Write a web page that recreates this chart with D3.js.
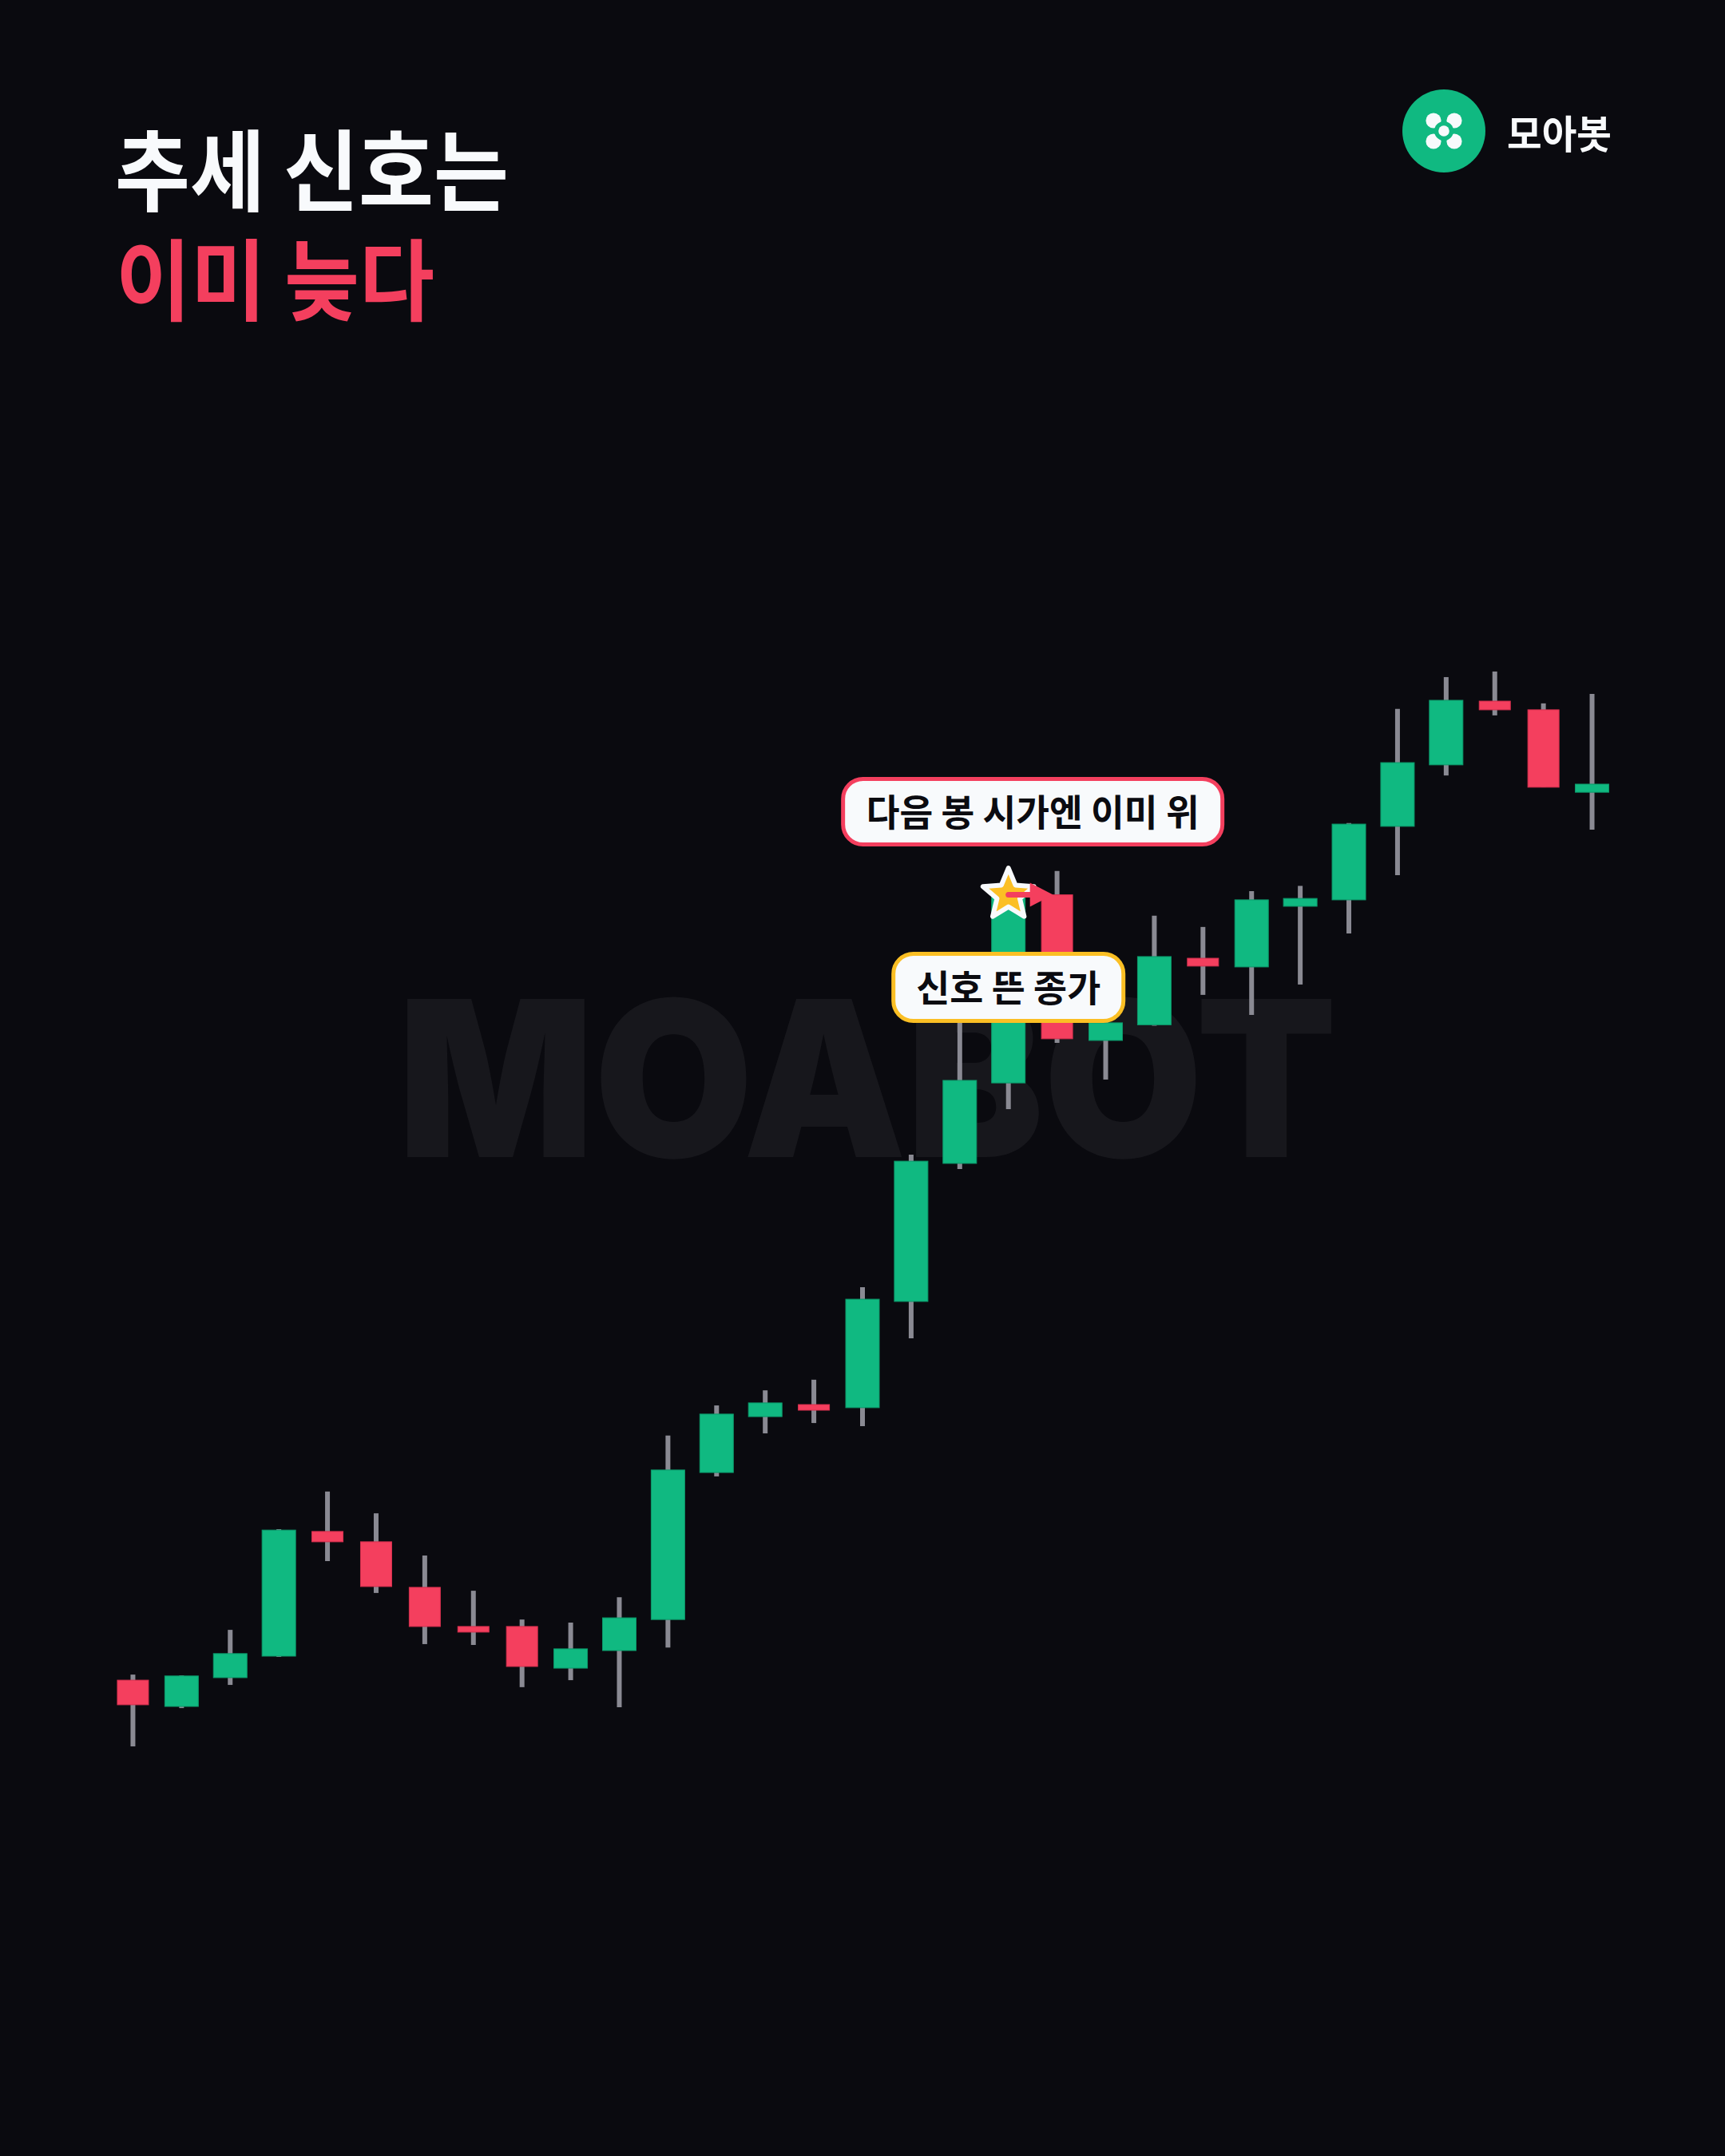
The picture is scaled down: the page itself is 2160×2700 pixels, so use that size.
<!DOCTYPE html>
<html>
<head>
<meta charset="utf-8">
<script src="https://cdn.jsdelivr.net/npm/d3@7"></script>
<style>
  html, body { margin: 0; padding: 0; background: #0a0a0f; }
  svg { display: block; }
</style>
</head>
<body>
<svg id="chart" width="2160" height="2700"></svg>
<script>
// ---------------- DATA ----------------
const titleLine1 = "추세 신호는";
const titleLine2 = "이미 늦다";
const brandName = "모아봇";
const watermarkText = "MOABOT";
const labelNextOpen = "다음 봉 시가엔 이미 위";
const labelSignalClose = "신호 뜬 종가";
const signalIndex = 18;

const opens  = [97.74, 96.80, 97.83, 98.60, 103.06, 102.69, 101.06, 99.66, 99.66, 98.17, 98.80, 99.91, 105.17, 107.17, 107.60, 107.49, 111.29, 116.23, 119.11, 125.84, 120.63, 121.19, 123.57, 123.26, 125.43, 125.66, 128.29, 130.49, 132.77, 132.46, 129.51];
const highs  = [97.94, 97.91, 99.54, 103.14, 104.49, 103.71, 102.20, 100.94, 99.91, 99.80, 100.71, 106.49, 107.57, 108.11, 108.49, 111.80, 116.54, 121.29, 126.09, 126.69, 121.43, 125.09, 124.69, 125.97, 126.16, 128.41, 132.49, 133.63, 133.83, 132.69, 133.03];
const lows   = [95.37, 96.74, 97.57, 98.57, 102.00, 100.86, 99.03, 99.00, 97.49, 97.74, 96.77, 98.91, 105.03, 106.57, 106.94, 106.83, 109.97, 116.03, 118.17, 120.54, 119.23, 121.16, 122.26, 121.54, 122.63, 124.46, 126.54, 130.11, 132.26, 129.69, 128.17];
const closes = [96.86, 97.89, 98.69, 103.11, 102.69, 101.09, 99.66, 99.46, 98.23, 98.86, 99.97, 105.26, 107.26, 107.66, 107.40, 111.37, 116.31, 119.20, 125.84, 120.69, 121.26, 123.63, 123.29, 125.66, 125.71, 128.37, 130.57, 132.80, 132.46, 129.69, 129.80];

// ---------------- STYLE ----------------
const C = {
  bg: "#0a0a0f",
  up: "#10b981", upStroke: "#0c9a6b",
  down: "#f43f5e", downStroke: "#d8304f",
  wick: "#8a8a93",
  white: "#f8fafc",
  red: "#f43f5e",
  amber: "#fbbf24",
  ink: "#0b0b10",
  watermark: "#17171c"
};
const KR = "'Noto Sans CJK KR', 'Noto Sans KR', sans-serif";

const svg = d3.select("#chart");
svg.append("rect").attr("width", 2160).attr("height", 2700).attr("fill", C.bg);

// watermark
svg.append("text")
  .attr("x", 1086).attr("y", 1449)
  .attr("text-anchor", "middle")
  .attr("font-family", "Inter, 'Liberation Sans', sans-serif")
  .attr("font-weight", 900)
  .attr("font-size", 272)
  .attr("textLength", 1176)
  .attr("lengthAdjust", "spacingAndGlyphs")
  .attr("fill", C.watermark)
  .text(watermarkText);

// title
svg.append("text")
  .attr("x", 144).attr("y", 256)
  .attr("font-family", KR).attr("font-weight", 700)
  .attr("font-size", 111)
  .attr("textLength", 493).attr("lengthAdjust", "spacingAndGlyphs")
  .attr("fill", C.white)
  .text(titleLine1);
svg.append("text")
  .attr("x", 145).attr("y", 393)
  .attr("font-family", KR).attr("font-weight", 700)
  .attr("font-size", 111)
  .attr("textLength", 399).attr("lengthAdjust", "spacingAndGlyphs")
  .attr("fill", C.red)
  .text(titleLine2);

// brand
const logo = svg.append("g").attr("transform", "translate(1808,164)");
logo.append("circle").attr("r", 52).attr("fill", C.up);
[[-1,-1],[1,-1],[-1,1],[1,1]].forEach(([sx, sy]) => {
  logo.append("circle").attr("cx", sx * 13).attr("cy", sy * 13).attr("r", 9.6).attr("fill", C.white);
});
logo.append("circle").attr("r", 12).attr("fill", C.up);
logo.append("circle").attr("r", 6.8).attr("fill", C.white);
svg.append("text")
  .attr("x", 1887).attr("y", 186)
  .attr("font-family", KR).attr("font-weight", 700)
  .attr("font-size", 49)
  .attr("textLength", 131).attr("lengthAdjust", "spacingAndGlyphs")
  .attr("fill", C.white)
  .text(brandName);

// ---------------- SCALES ----------------
const idx = d3.range(opens.length);
const x = d3.scaleBand().domain(idx).range([136, 2024]).padding(0);
const xc = i => x(i) + x.bandwidth() / 2;
const y = d3.scaleLinear().domain([95, 135]).range([2200, 800]);

const candles = idx.map(i => ({ i, o: opens[i], h: highs[i], l: lows[i], c: closes[i], up: closes[i] >= opens[i] }));

const g = svg.append("g");
g.selectAll("line.wick").data(candles).join("line")
  .attr("class", "wick")
  .attr("x1", d => xc(d.i)).attr("x2", d => xc(d.i))
  .attr("y1", d => y(d.h)).attr("y2", d => y(d.l))
  .attr("stroke", C.wick).attr("stroke-width", 6);

g.selectAll("rect.body").data(candles).join("rect")
  .attr("class", "body")
  .attr("x", d => xc(d.i) - (d.up ? 21 : 19.5))
  .attr("width", d => d.up ? 42 : 39)
  .attr("y", d => y(Math.max(d.o, d.c)))
  .attr("height", d => Math.max(1, Math.abs(y(d.o) - y(d.c))))
  .attr("fill", d => d.up ? C.up : C.down)
  .attr("stroke", d => d.up ? C.upStroke : C.downStroke)
  .attr("stroke-width", 1);

// ---------------- ANNOTATIONS ----------------
const sx = xc(signalIndex), sy = y(closes[signalIndex]);
const nx = xc(signalIndex + 1), ny = y(opens[signalIndex + 1]);

// star on the signal close
const starPts = d3.range(10).map(k => {
  const r = k % 2 === 0 ? 33.5 : 15;
  const a = -Math.PI / 2 + k * Math.PI / 5;
  return [sx + r * Math.cos(a), sy + r * Math.sin(a)];
});
svg.append("polygon")
  .attr("points", starPts.map(p => p.join(",")).join(" "))
  .attr("fill", C.amber)
  .attr("stroke", C.white).attr("stroke-width", 6).attr("stroke-linejoin", "round");

// arrow from signal close to next open
const headBase = sx + 27, headTip = nx - 5;
svg.append("line")
  .attr("x1", sx).attr("y1", sy).attr("x2", headBase + 2).attr("y2", ny)
  .attr("stroke", C.red).attr("stroke-width", 7).attr("stroke-linecap", "round");
svg.append("polygon")
  .attr("points", [[headBase, ny - 15], [headTip, ny], [headBase, ny + 15]].map(p => p.join(",")).join(" "))
  .attr("fill", C.red);

function label(cx, top, w, h, stroke, text, tl) {
  svg.append("rect")
    .attr("x", cx - w / 2).attr("y", top).attr("width", w).attr("height", h)
    .attr("rx", 25).attr("ry", 25)
    .attr("fill", C.white).attr("stroke", stroke).attr("stroke-width", 5);
  svg.append("text")
    .attr("x", cx).attr("y", top + h / 2 + 17)
    .attr("text-anchor", "middle")
    .attr("font-family", KR).attr("font-weight", 700)
    .attr("font-size", 46)
    .attr("textLength", tl).attr("lengthAdjust", "spacingAndGlyphs")
    .attr("fill", C.ink)
    .text(text);
}
label((sx + nx) / 2, 975.5, 475, 82, C.red, labelNextOpen, 417);
label(sx, 1194.5, 288, 84, C.amber, labelSignalClose, 231);
</script>
</body>
</html>
